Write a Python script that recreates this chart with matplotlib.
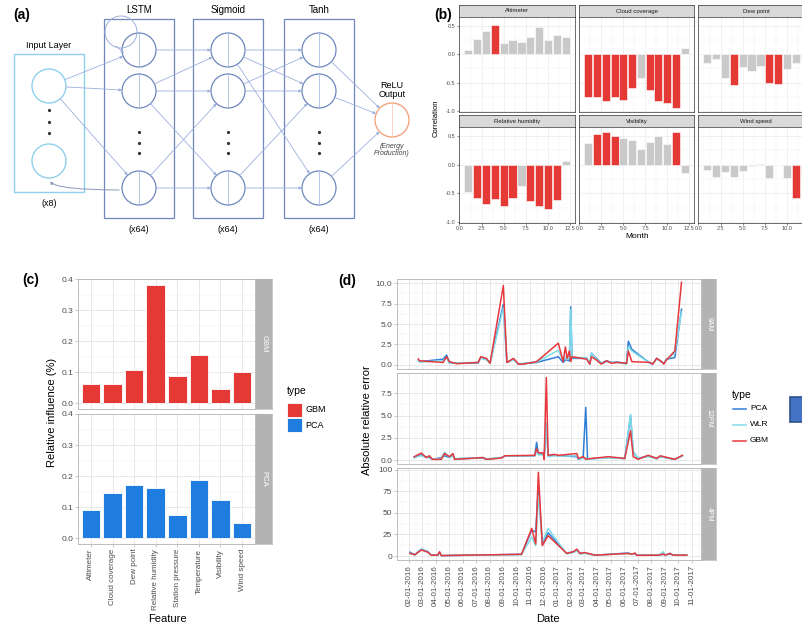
import numpy as np
import pandas as pd
import matplotlib.pyplot as plt
import matplotlib.dates as mdates
from matplotlib.patches import Circle, Rectangle, FancyArrowPatch
from matplotlib.lines import Line2D

plt.rcParams["font.family"] = ["Liberation Sans", "DejaVu Sans"]

W, H = 802, 626

# ---------------- (b) monthly correlation with production
months = list(range(1, 13))
corr_features = ["Altimeter", "Cloud coverage", "Dew point",
                 "Relative humidity", "Visibility", "Wind speed"]
corr_altimeter = [0.07, 0.27, 0.42, 0.51, 0.20, 0.25, 0.21, 0.31, 0.48, 0.26, 0.34, 0.30]
corr_cloud = [-0.76, -0.75, -0.82, -0.75, -0.80, -0.60, -0.42, -0.63, -0.82, -0.86, -0.95, 0.12]
corr_dew = [-0.16, -0.08, -0.42, -0.55, -0.22, -0.29, -0.20, -0.50, -0.52, -0.26, -0.16, -0.10]
corr_humidity = [-0.47, -0.58, -0.69, -0.60, -0.72, -0.58, -0.38, -0.63, -0.72, -0.77, -0.62, 0.06]
corr_visibility = [0.38, 0.54, 0.58, 0.51, 0.46, 0.43, 0.28, 0.39, 0.50, 0.37, 0.57, -0.15]
corr_wind = [-0.09, -0.22, -0.12, -0.21, -0.11, -0.02, 0.01, -0.24, 0.0, -0.24, -0.59, -0.16]
corr_values = [corr_altimeter, corr_cloud, corr_dew, corr_humidity, corr_visibility, corr_wind]
# months flagged as significant (drawn red)
corr_signif = [[4], [1, 2, 3, 4, 5, 6, 8, 9, 10, 11], [4, 8, 9],
               [2, 3, 4, 5, 6, 8, 9, 10, 11], [2, 3, 4, 11], [11]]

# ---------------- (c) relative influence
features = ["Altimeter", "Cloud coverage", "Dew point", "Relative humidity",
            "Station pressure", "Temperature", "Visibility", "Wind speed"]
gbm_influence = [0.061, 0.063, 0.106, 0.380, 0.088, 0.156, 0.046, 0.099]
pca_influence = [0.090, 0.144, 0.172, 0.161, 0.075, 0.188, 0.124, 0.050]

# ---------------- (d) absolute relative error
dates_8am = ["2016-02-22", "2016-02-25", "2016-04-18", "2016-04-26", "2016-05-02", "2016-05-19",
             "2016-07-06", "2016-07-12", "2016-07-25", "2016-08-02", "2016-09-01", "2016-09-09",
             "2016-09-24", "2016-10-05", "2016-10-16", "2016-11-15", "2017-01-03", "2017-01-14",
             "2017-01-19", "2017-01-23", "2017-01-28", "2017-01-31", "2017-02-03", "2017-03-08",
             "2017-03-15", "2017-03-19", "2017-03-30", "2017-04-10", "2017-04-22", "2017-05-03",
             "2017-05-15", "2017-06-06", "2017-06-10", "2017-06-18", "2017-07-29", "2017-08-04",
             "2017-08-13", "2017-08-24", "2017-08-29", "2017-09-04", "2017-09-23", "2017-10-08"]
gbm_8am = [0.73, 0.5, 0.3, 1.0, 0.4, 0.15, 0.3, 1.0, 0.8, 0.2, 9.7, 0.3, 0.8, 0.1, 0.1, 0.4,
           2.65, 0.4, 2.2, 0.8, 1.7, 0.4, 1.0, 0.7, 0.1, 1.0, 0.6, 0.1, 0.5, 0.2, 0.3, 0.2,
           1.7, 0.4, 0.3, 0.1, 0.8, 0.4, 0.1, 0.6, 1.7, 10.1]
pca_8am = [0.6, 0.4, 0.7, 1.2, 0.3, 0.2, 0.25, 0.9, 0.7, 0.2, 7.4, 0.3, 0.7, 0.1, 0.15, 0.3,
           1.0, 0.3, 0.6, 0.6, 0.5, 7.1, 0.8, 0.8, 0.1, 1.4, 0.8, 0.2, 0.5, 0.3, 0.35, 0.2,
           2.9, 1.9, 0.2, 0.1, 0.8, 0.4, 0.2, 0.7, 0.9, 6.8]
wlr_8am = [0.5, 0.35, 0.5, 0.9, 0.2, 0.25, 0.3, 0.8, 0.6, 0.2, 7.0, 0.35, 0.6, 0.15, 0.2, 0.35,
           1.8, 0.5, 1.0, 0.7, 0.8, 6.8, 0.9, 0.9, 0.1, 1.5, 0.7, 0.15, 0.4, 0.25, 0.3, 0.1,
           2.2, 1.7, 0.2, 0.15, 0.7, 0.4, 0.2, 0.6, 1.5, 6.5]

dates_12pm = ["2016-02-13", "2016-02-29", "2016-03-11", "2016-03-18", "2016-03-25", "2016-04-14",
              "2016-04-21", "2016-05-03", "2016-05-10", "2016-05-14", "2016-07-17", "2016-07-25",
              "2016-08-28", "2016-09-04", "2016-11-11", "2016-11-15", "2016-11-19", "2016-11-30",
              "2016-12-02", "2016-12-07", "2016-12-11", "2016-12-26", "2017-01-03", "2017-02-14",
              "2017-02-17", "2017-02-28", "2017-03-06", "2017-03-10", "2017-04-26", "2017-06-02",
              "2017-06-15", "2017-06-21", "2017-07-02", "2017-07-25", "2017-08-13", "2017-08-21",
              "2017-09-23", "2017-10-10"]
gbm_12pm = [0.4, 0.8, 0.3, 0.5, 0.1, 0.1, 0.75, 0.4, 0.75, 0.1, 0.3, 0.1, 0.25, 0.5, 0.55, 1.3,
            0.85, 0.8, 0.1, 9.25, 0.55, 0.65, 0.55, 0.75, 0.2, 0.4, 0.1, 0.15, 0.4, 0.2, 3.3,
            0.4, 0.1, 0.55, 0.2, 0.5, 0.1, 0.55]
pca_12pm = [0.3, 0.6, 0.35, 0.3, 0.1, 0.3, 0.5, 0.3, 0.7, 0.15, 0.25, 0.1, 0.3, 0.45, 0.5, 2.0,
            0.7, 0.7, 0.3, 4.0, 0.5, 0.6, 0.5, 0.4, 0.1, 0.3, 5.9, 0.15, 0.3, 0.2, 5.0, 0.9,
            0.2, 0.5, 0.2, 0.4, 0.1, 0.5]
wlr_12pm = [0.35, 0.5, 0.3, 0.4, 0.15, 0.2, 0.9, 0.3, 0.5, 0.2, 0.3, 0.15, 0.3, 0.45, 0.5, 1.0,
            0.6, 0.6, 0.2, 4.2, 0.4, 0.5, 0.45, 0.5, 0.15, 0.2, 0.3, 0.1, 0.3, 0.15, 5.1, 1.0,
            0.2, 0.4, 0.15, 0.4, 0.1, 0.45]

dates_4pm = ["2016-02-03", "2016-02-14", "2016-02-29", "2016-03-15", "2016-03-22", "2016-04-06",
             "2016-04-10", "2016-04-14", "2016-10-12", "2016-11-04", "2016-11-13", "2016-11-19",
             "2016-11-28", "2016-12-11", "2017-01-22", "2017-02-06", "2017-02-14", "2017-02-21",
             "2017-03-04", "2017-03-27", "2017-06-10", "2017-06-18", "2017-06-25", "2017-06-29",
             "2017-08-17", "2017-08-28", "2017-09-01", "2017-09-12", "2017-09-19", "2017-10-20"]
gbm_4pm = [3.1, 1.5, 7, 4.3, 1, 1, 5, 0.5, 2, 32, 14, 97, 12, 23.6, 3, 5, 8, 3, 4, 1,
           3, 2, 3.5, 0.8, 1, 2.3, 1, 3, 1, 1]
pca_4pm = [4.5, 1.5, 8, 5, 1, 1, 4, 0.5, 2, 30, 28, 80, 14, 27, 3, 5, 7, 3, 3.5, 1,
           3.5, 2, 3, 1, 1, 2, 1, 2.5, 1, 1]
wlr_4pm = [3.5, 1.2, 7.5, 4.5, 1, 1, 4, 0.5, 1.5, 22, 12, 70, 16, 32, 2.5, 4, 6, 2, 3, 1,
           3, 2, 3, 1, 1, 5, 1, 3.5, 1, 1]

RED = "#e53935"
GREY_BAR = "#c9c9c9"
BLUE_C = "#1f7ddf"
PCA_C, WLR_C, GBM_C = "#2f7fd8", "#80dbe8", "#e8383d"
TICK_C = "#4d4d4d"


def rect(x0, y0, x1, y1):
    """pixel box (top-left origin) -> figure fraction rect"""
    return [x0 / W, 1 - y1 / H, (x1 - x0) / W, (y1 - y0) / H]


fig = plt.figure(figsize=(W / 100, H / 100), dpi=100)

# overlay axes in pixel coordinates for the diagram and loose text
dg = fig.add_axes([0, 0, 1, 1])
dg.set_xlim(0, W)
dg.set_ylim(H, 0)
dg.axis("off")

# ---------------- (a) network diagram
EDGE = "#6f87bd"
LINK = "#9bb0dd"
INPUT_C = "#8fd0ec"
R = 17
layer_names = ["LSTM", "Sigmoid", "Tanh"]
hidden_x = [139, 228, 319]
hidden_y = [50, 91, 188]
input_x, input_y = 49, [86, 161]
out_xy = (392, 120)

dg.add_patch(Rectangle((14, 54), 70, 138, fill=False, ec=INPUT_C, lw=1.0))
for y in input_y:
    dg.add_patch(Circle((input_x, y), R, fill=False, ec=INPUT_C, lw=1.0))
for y in [110, 122, 133]:
    dg.plot(input_x, y, "o", ms=1.3, color="#333333")
dg.text(49, 45, "Input Layer", ha="center", va="center", fontsize=6.5)
dg.text(49, 203, "(x8)", ha="center", va="center", fontsize=6.5)

for name, cx in zip(layer_names, hidden_x):
    dg.add_patch(Rectangle((cx - 35, 19), 70, 199, fill=False, ec=EDGE, lw=0.9))
    dg.text(cx, 10, name, ha="center", va="center", fontsize=7)
    dg.text(cx, 229, "(x64)", ha="center", va="center", fontsize=6.5)
    for y in hidden_y:
        dg.add_patch(Circle((cx, y), R, fill=False, ec=EDGE, lw=0.9))
        dg.plot([cx, cx], [y - R, y + R], color=LINK, lw=0.5)
    for y in [132, 143, 153]:
        dg.plot(cx, y, "o", ms=1.3, color="#333333")

dg.add_patch(Circle(out_xy, R, fill=False, ec="#f2a585", lw=1.0))
dg.plot([out_xy[0]] * 2, [out_xy[1] - R, out_xy[1] + R], color="#f6c2ad", lw=0.5)
dg.text(392, 90, "ReLU\nOutput", ha="center", va="center", fontsize=6.5, linespacing=1.0)
dg.text(392, 150, "(Energy\nProduction)", ha="center", va="center", fontsize=5,
        style="italic", color="#444444", linespacing=1.0)


def link(p, q):
    (x0, y0), (x1, y1) = p, q
    d = np.hypot(x1 - x0, y1 - y0)
    ux, uy = (x1 - x0) / d, (y1 - y0) / d
    dg.add_patch(FancyArrowPatch((x0 + ux * R, y0 + uy * R), (x1 - ux * R, y1 - uy * R),
                                 arrowstyle="-|>", mutation_scale=4, lw=0.6,
                                 color=LINK, shrinkA=0, shrinkB=0))


for j in range(3):
    link((input_x, input_y[0]), (hidden_x[0], hidden_y[j]))
for a, b in [(0, 0), (1, 0), (1, 1), (1, 2), (2, 1), (2, 2)]:
    link((hidden_x[0], hidden_y[a]), (hidden_x[1], hidden_y[b]))
for a, b in [(0, 0), (0, 1), (0, 2), (1, 0), (1, 1), (2, 1), (2, 2)]:
    link((hidden_x[1], hidden_y[a]), (hidden_x[2], hidden_y[b]))
for a in range(3):
    link((hidden_x[2], hidden_y[a]), out_xy)

# feedback from LSTM back to input, and LSTM self loop
dg.add_patch(FancyArrowPatch((hidden_x[0] - R, hidden_y[2] + 2), (input_x, input_y[1] + R + 1),
                             connectionstyle="angle3,angleA=180,angleB=90",
                             arrowstyle="-|>", mutation_scale=4, lw=0.7, color="#8a97b8"))
dg.add_patch(Circle((121, 32), 16, fill=False, ec=LINK, lw=0.7))
dg.add_patch(FancyArrowPatch((116, 46), (124, 53), arrowstyle="-|>", mutation_scale=4,
                             lw=0.6, color=LINK, shrinkA=0, shrinkB=0))

# ---------------- (b) correlation facets
col_x = [(459, 575), (579, 694), (698, 814)]
row_strip = [(5, 17), (115, 127)]
row_panel = [(17, 112), (127, 223)]


def strip(box, label, fc, ec, tc, size, rotation=0):
    s = fig.add_axes(rect(*box))
    s.set_facecolor(fc)
    s.set_xticks([])
    s.set_yticks([])
    for sp in s.spines.values():
        sp.set_color(ec)
        sp.set_linewidth(0.5)
    s.text(0.5, 0.5, label, transform=s.transAxes, ha="center", va="center",
           fontsize=size, color=tc, rotation=rotation)
    return s


for k, (feat, vals, sig) in enumerate(zip(corr_features, corr_values, corr_signif)):
    r, c = divmod(k, 3)
    x0, x1 = col_x[c]
    strip((x0, row_strip[r][0], x1, row_strip[r][1]), feat, "#d9d9d9", "#333333", "#1a1a1a", 4.3)
    ax = fig.add_axes(rect(x0, row_panel[r][0], x1, row_panel[r][1]))
    colors = [RED if m in sig else GREY_BAR for m in months]
    ax.bar(months, vals, width=0.92, color=colors, edgecolor="white", linewidth=0.4)
    ax.set_xlim(-0.05, 13.05)
    ax.set_ylim(-1.02, 0.66)
    xt = [0, 2.5, 5, 7.5, 10, 12.5] if c < 2 else [0, 2.5, 5, 7.5, 10]
    ax.set_xticks(xt)
    ax.set_xticks(np.arange(1.25, 13, 2.5), minor=True)
    ax.set_yticks([-1.0, -0.5, 0.0, 0.5])
    ax.set_yticks([-0.75, -0.25, 0.25], minor=True)
    ax.grid(which="major", color="#ebebeb", lw=0.5)
    ax.grid(which="minor", color="#f2f2f2", lw=0.35)
    ax.set_axisbelow(True)
    for sp in ax.spines.values():
        sp.set_color("#333333")
        sp.set_linewidth(0.5)
    ax.tick_params(which="both", length=1.5, width=0.4, color="#333333",
                   labelsize=4, labelcolor=TICK_C, pad=1)
    ax.tick_params(which="minor", length=0)
    if c == 0:
        ax.set_yticklabels(["-1.0", "-0.5", "0.0", "0.5"])
    else:
        ax.tick_params(axis="y", which="both", left=False, labelleft=False)
    if r == 1:
        ax.set_xticklabels(["%.1f" % v for v in xt])
    else:
        ax.tick_params(axis="x", which="both", bottom=False, labelbottom=False)

fig.text(436 / W, 1 - 118 / H, "Correlation", rotation=90, ha="center", va="center", fontsize=5.5)
fig.text(637 / W, 1 - 237 / H, "Month", ha="center", va="center", fontsize=6)

# ---------------- (c) relative influence facets
c_rows = [(279, 409), (414, 544)]
pos = np.arange(1, len(features) + 1)
for r, (vals, col, lab) in enumerate([(gbm_influence, RED, "GBM"), (pca_influence, BLUE_C, "PCA")]):
    y0, y1 = c_rows[r]
    strip((256, y0, 272, y1), lab, "#b3b3b3", "#b3b3b3", "white", 5.5, rotation=-90)
    ax = fig.add_axes(rect(78, y0, 255, y1))
    ax.bar(pos, vals, width=0.86, color=col, edgecolor="white", linewidth=0.6)
    ax.set_xlim(0.4, len(features) + 0.6)
    ax.set_ylim(-0.019, 0.40)
    ax.set_yticks([0.0, 0.1, 0.2, 0.3, 0.4])
    ax.set_yticks([0.05, 0.15, 0.25, 0.35], minor=True)
    ax.set_xticks(pos)
    ax.grid(which="major", color="#dedede", lw=0.5)
    ax.grid(which="minor", axis="y", color="#efefef", lw=0.35)
    ax.set_axisbelow(True)
    for sp in ax.spines.values():
        sp.set_color("#b3b3b3")
        sp.set_linewidth(0.6)
    ax.tick_params(which="both", length=2, width=0.5, color="#b3b3b3",
                   labelsize=6, labelcolor=TICK_C, pad=1.5)
    ax.tick_params(which="minor", length=0)
    if r == 0:
        ax.tick_params(axis="x", bottom=False, labelbottom=False)
    else:
        ax.set_xticklabels(features, rotation=90, fontsize=5.8)

fig.text(52 / W, 1 - 412 / H, "Relative influence (%)", rotation=90,
         ha="center", va="center", fontsize=8)
fig.text(167 / W, 1 - 619 / H, "Feature", ha="center", va="center", fontsize=8)

dg.text(287, 391, "type", ha="left", va="center", fontsize=7.5)
for i, (lab, col) in enumerate([("GBM", RED), ("PCA", BLUE_C)]):
    dg.add_patch(Rectangle((287, 403 + i * 15), 15, 14, fc=col, ec="white", lw=0.6))
    dg.text(305, 410 + i * 15, lab, ha="left", va="center", fontsize=6.5)

# ---------------- (d) error time series facets
d_rows = [(279, 369), (373, 464), (468, 560)]
d_data = [
    ("8AM", dates_8am, pca_8am, wlr_8am, gbm_8am, (-0.5, 10.5), [0, 2.5, 5, 7.5, 10],
     ["0.0", "2.5", "5.0", "7.5", "10.0"]),
    ("12PM", dates_12pm, pca_12pm, wlr_12pm, gbm_12pm, (-0.42, 9.75), [0, 2.5, 5, 7.5],
     ["0.0", "2.5", "5.0", "7.5"]),
    ("4PM", dates_4pm, pca_4pm, wlr_4pm, gbm_4pm, (-4.6, 102), [0, 25, 50, 75, 100],
     ["0", "25", "50", "75", "100"]),
]
for r, (lab, dts, pca, wlr, gbm, ylim, yt, ytl) in enumerate(d_data):
    y0, y1 = d_rows[r]
    strip((702, y0, 716, y1), lab, "#b3b3b3", "#b3b3b3", "white", 5, rotation=-90)
    ax = fig.add_axes(rect(397, y0, 701, y1))
    t = pd.to_datetime(dts)
    ax.plot(t, pca, color=PCA_C, lw=1.1)
    ax.plot(t, wlr, color=WLR_C, lw=1.1)
    ax.plot(t, gbm, color=GBM_C, lw=1.1)
    ax.set_xlim(pd.Timestamp("2016-01-05"), pd.Timestamp("2017-11-21"))
    ax.set_ylim(*ylim)
    ax.set_yticks(yt)
    ax.set_yticklabels(ytl)
    ax.set_yticks([(a + b) / 2 for a, b in zip(yt[:-1], yt[1:])], minor=True)
    ax.xaxis.set_major_locator(mdates.MonthLocator())
    ax.xaxis.set_minor_locator(mdates.MonthLocator(bymonthday=16))
    ax.xaxis.set_major_formatter(mdates.DateFormatter("%m-%d-%Y"))
    ax.grid(which="major", color="#dedede", lw=0.5)
    ax.grid(which="minor", color="#efefef", lw=0.35)
    ax.set_axisbelow(True)
    for sp in ax.spines.values():
        sp.set_color("#b3b3b3")
        sp.set_linewidth(0.6)
    ax.tick_params(which="both", length=2, width=0.5, color="#b3b3b3",
                   labelsize=6, labelcolor=TICK_C, pad=1.5)
    ax.tick_params(which="minor", length=0)
    if r < 2:
        ax.tick_params(axis="x", which="both", bottom=False, labelbottom=False)
    else:
        for tl in ax.get_xticklabels():
            tl.set_rotation(90)
            tl.set_fontsize(5.8)

fig.text(367 / W, 1 - 420 / H, "Absolute relative error", rotation=90,
         ha="center", va="center", fontsize=8)
fig.text(548 / W, 1 - 619 / H, "Date", ha="center", va="center", fontsize=8)

dg.text(732, 395, "type", ha="left", va="center", fontsize=7.5)
for i, (lab, col) in enumerate([("PCA", PCA_C), ("WLR", WLR_C), ("GBM", GBM_C)]):
    yy = 409 + i * 16
    dg.add_line(Line2D([733, 746], [yy, yy], color=col, lw=1.1))
    dg.text(750, yy, lab, ha="left", va="center", fontsize=6)

# stray blue box at the right edge
dg.add_patch(Rectangle((790, 397), 20, 25, fc="#4472c4", ec="#2f528f", lw=1.2, clip_on=False))

# panel tags
for tag, x, y in [("(a)", 22, 15), ("(b)", 443, 15), ("(c)", 31, 280), ("(d)", 347, 281)]:
    fig.text(x / W, 1 - y / H, tag, ha="center", va="center", fontsize=10, fontweight="bold")

fig.savefig("out.png", dpi=100)
